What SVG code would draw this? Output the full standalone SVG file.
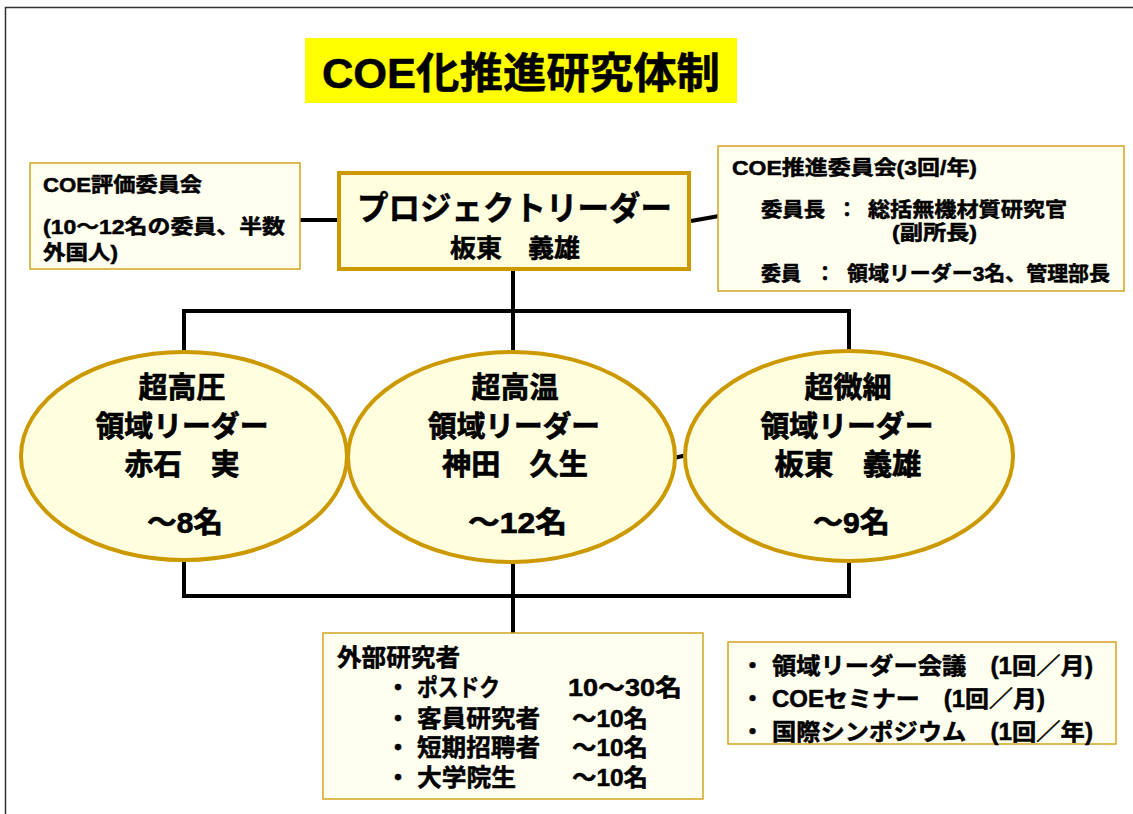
<svg xmlns="http://www.w3.org/2000/svg" width="1133" height="814" viewBox="0 0 1133 814">
<style>
text{font-family:"Liberation Sans","Noto Sans CJK JP",sans-serif;font-weight:bold;fill:#000;stroke:#000;stroke-width:0.5}
.box{fill:#fffff0;stroke:#d4a520;stroke-width:1.5}
.ell{fill:#ffffe0;stroke:#cc9900;stroke-width:4}
.pl{fill:#ffffe0;stroke:#cc9900;stroke-width:4}
.conn{fill:none;stroke:#000;stroke-width:4}
.e{font-size:29px;text-anchor:middle;stroke-width:0.7}
.s20{font-size:20px}
.s24{font-size:24px}
.s23{font-size:23px}
</style>
<rect x="5.5" y="7.5" width="1200" height="900" fill="#fff" stroke="#333" stroke-width="1.5"/>
<g id="title">
<rect x="305" y="38" width="432" height="65" fill="#ffff00"/>
<text x="322" y="88" font-size="42" stroke-width="1" textLength="398" lengthAdjust="spacingAndGlyphs">COE化推進研究体制</text>
</g>
<g id="connectors" class="conn">
<line x1="300" y1="220" x2="339" y2="220"/>
<line x1="691" y1="221" x2="719" y2="216"/>
<path d="M513,271 V311"/>
<path d="M184,352 V311 H849 V351"/>
<path d="M513,311 V352"/>
<line x1="344" y1="458" x2="351" y2="458" stroke-width="2"/>
<line x1="674" y1="458" x2="687" y2="455"/>
<path d="M184,560 V596 H849 V561"/>
<path d="M513,562 V633"/>
</g>
<g id="eval">
<rect class="box" x="30" y="163" width="270" height="106"/>
<text class="s20" x="43" y="192" textLength="159" lengthAdjust="spacingAndGlyphs">COE評価委員会</text>
<text class="s20" x="43" y="234" textLength="242" lengthAdjust="spacingAndGlyphs">(10～12名の委員、半数</text>
<text class="s20" x="43" y="260" textLength="75" lengthAdjust="spacingAndGlyphs">外国人)</text>
</g>
<g id="pl">
<rect class="pl" x="339" y="173" width="350" height="96"/>
<text x="514.5" y="220" font-size="33" stroke-width="0.8" text-anchor="middle" textLength="315" lengthAdjust="spacingAndGlyphs">プロジェクトリーダー</text>
<text x="515" y="257" font-size="25" text-anchor="middle" textLength="130" lengthAdjust="spacingAndGlyphs">板東　義雄</text>
</g>
<g id="promo">
<rect class="box" x="718" y="146" width="406" height="145"/>
<text class="s20" x="732" y="175" textLength="245" lengthAdjust="spacingAndGlyphs">COE推進委員会(3回/年)</text>
<text class="s20" x="761" y="217" textLength="64" lengthAdjust="spacingAndGlyphs">委員長</text>
<text class="s20" x="837" y="217">：</text>
<text class="s20" x="868" y="217" textLength="199" lengthAdjust="spacingAndGlyphs">総括無機材質研究官</text>
<text class="s20" x="934.5" y="240" text-anchor="middle" textLength="85" lengthAdjust="spacingAndGlyphs">(副所長)</text>
<text class="s20" x="761" y="281" textLength="40" lengthAdjust="spacingAndGlyphs">委員</text>
<text class="s20" x="815" y="281">：</text>
<text class="s20" x="847" y="281" textLength="263" lengthAdjust="spacingAndGlyphs">領域リーダー3名、管理部長</text>
</g>
<g id="area1">
<ellipse class="ell" cx="184" cy="456" rx="163" ry="104"/>
<text class="e" x="182" y="398">超高圧</text>
<text class="e" x="182" y="437" textLength="173" lengthAdjust="spacingAndGlyphs">領域リーダー</text>
<text class="e" x="182" y="475" textLength="115" lengthAdjust="spacingAndGlyphs">赤石　実</text>
<text class="e" x="185" y="533" textLength="76" lengthAdjust="spacingAndGlyphs">～8名</text>
</g>
<g id="area2">
<ellipse class="ell" cx="511.5" cy="457" rx="163.5" ry="105"/>
<text class="e" x="515" y="398">超高温</text>
<text class="e" x="514" y="437" textLength="172" lengthAdjust="spacingAndGlyphs">領域リーダー</text>
<text class="e" x="515" y="475" textLength="146" lengthAdjust="spacingAndGlyphs">神田　久生</text>
<text class="e" x="517.5" y="533" textLength="99" lengthAdjust="spacingAndGlyphs">～12名</text>
</g>
<g id="area3">
<ellipse class="ell" cx="849" cy="456" rx="164" ry="105"/>
<text class="e" x="848" y="398">超微細</text>
<text class="e" x="847" y="437" textLength="173" lengthAdjust="spacingAndGlyphs">領域リーダー</text>
<text class="e" x="848" y="475" textLength="147" lengthAdjust="spacingAndGlyphs">板東　義雄</text>
<text class="e" x="851.5" y="533" textLength="77" lengthAdjust="spacingAndGlyphs">～9名</text>
</g>
<g id="external">
<rect class="box" x="323" y="633" width="380" height="166"/>
<text class="s24" x="337" y="666" textLength="123" lengthAdjust="spacingAndGlyphs">外部研究者</text>
<text class="s24" x="386" y="696">・</text>
<text class="s24" x="417" y="696" textLength="83" lengthAdjust="spacingAndGlyphs">ポスドク</text>
<text class="s24" x="568" y="696" textLength="114" lengthAdjust="spacingAndGlyphs">10～30名</text>
<text class="s24" x="386" y="727">・</text>
<text class="s24" x="417" y="727" textLength="123" lengthAdjust="spacingAndGlyphs">客員研究者</text>
<text class="s24" x="572" y="727" textLength="76" lengthAdjust="spacingAndGlyphs">～10名</text>
<text class="s24" x="386" y="756">・</text>
<text class="s24" x="417" y="756" textLength="123" lengthAdjust="spacingAndGlyphs">短期招聘者</text>
<text class="s24" x="572" y="756" textLength="76" lengthAdjust="spacingAndGlyphs">～10名</text>
<text class="s24" x="386" y="786">・</text>
<text class="s24" x="417" y="786" textLength="99" lengthAdjust="spacingAndGlyphs">大学院生</text>
<text class="s24" x="572" y="786" textLength="76" lengthAdjust="spacingAndGlyphs">～10名</text>
</g>
<g id="meetings">
<rect class="box" x="728" y="642" width="388" height="102"/>
<text class="s23" x="741" y="674">・</text>
<text class="s23" x="772" y="674" textLength="321" lengthAdjust="spacingAndGlyphs">領域リーダー会議　(1回／月)</text>
<text class="s23" x="741" y="707">・</text>
<text class="s23" x="772" y="707" textLength="273" lengthAdjust="spacingAndGlyphs">COEセミナー　(1回／月)</text>
<text class="s23" x="741" y="740">・</text>
<text class="s23" x="772" y="740" textLength="321" lengthAdjust="spacingAndGlyphs">国際シンポジウム　(1回／年)</text>
</g>
</svg>
